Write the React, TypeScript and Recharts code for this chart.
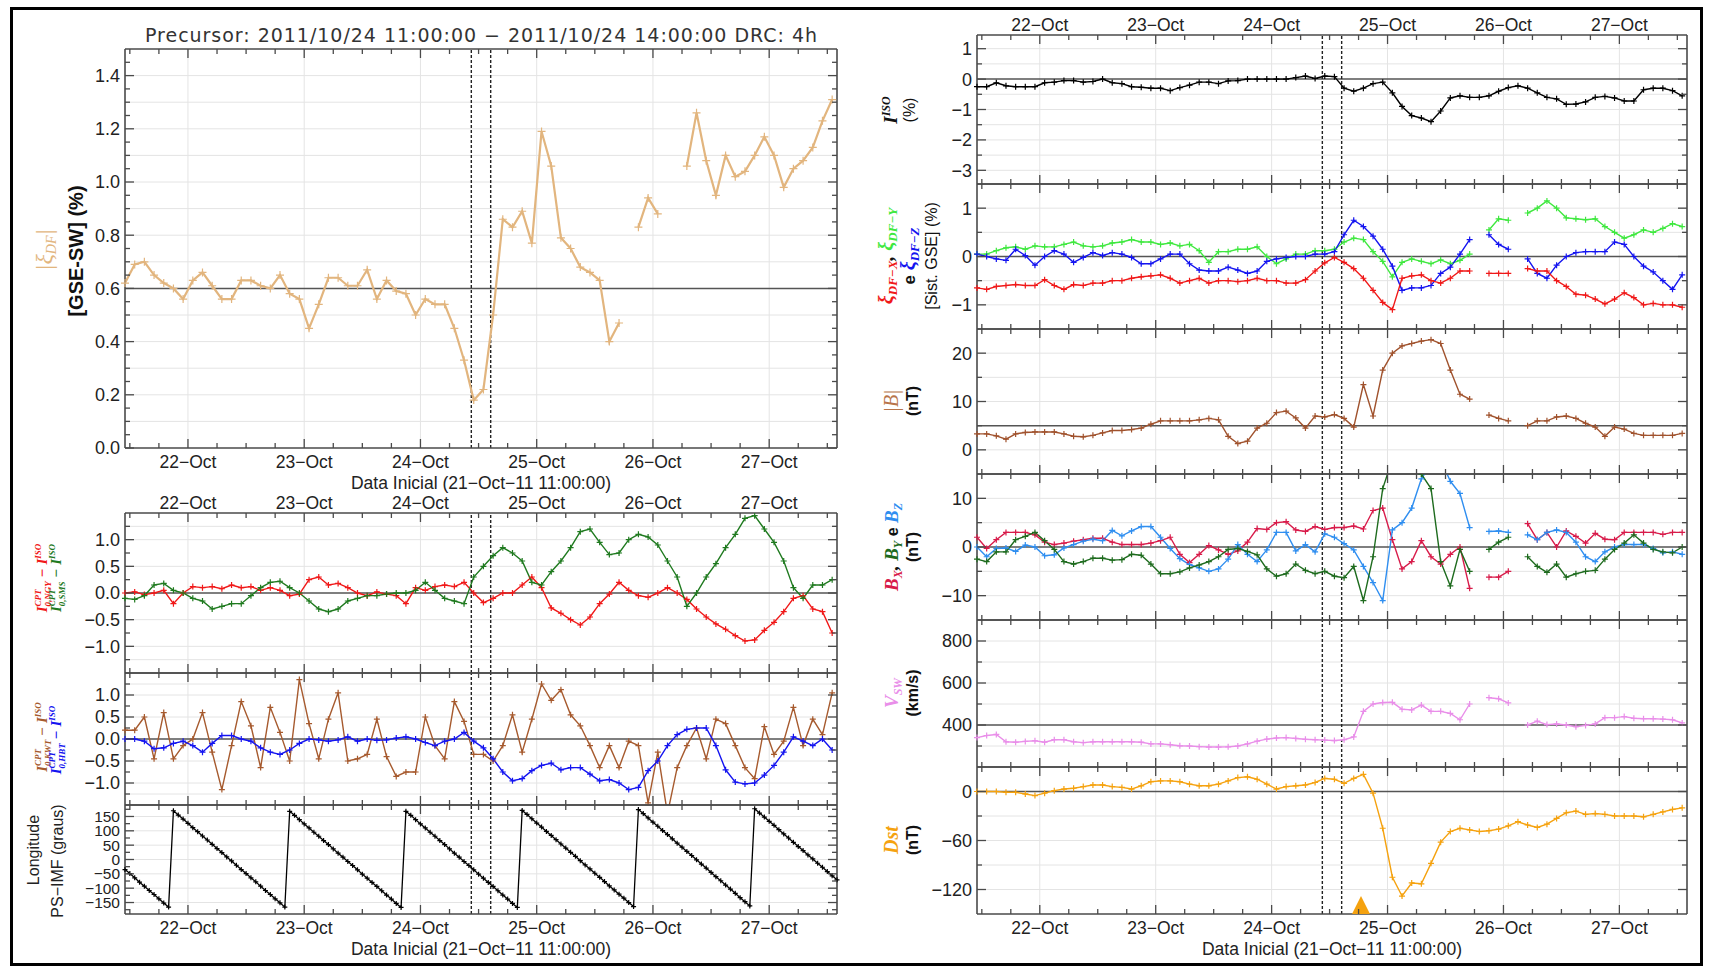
import React from 'react'
import { LineChart, Line, XAxis, YAxis, ReferenceLine, ReferenceDot } from 'recharts'

// hours after 21-Oct-11 11:00:00, one value every 2 h
const hours = Array.from({ length: 74 }, (_, i) => i * 2)
// PS-IMF longitude is read every hour
const lonHours = Array.from({ length: 148 }, (_, i) => i)

const dayTicks = [13, 37, 61, 85, 109, 133]
const dayLabels = ['22−Oct', '23−Oct', '24−Oct', '25−Oct', '26−Oct', '27−Oct']
const sixHourTicks = [1, 7, 13, 19, 25, 31, 37, 43, 49, 55, 61, 67, 73, 79, 85, 91, 97, 103, 109, 115, 121, 127, 133, 139, 145]
const precursor = [71.5, 75.5]
const stormMark = [79.5]

// |xi_DF| [GSE-SW] (%)
const xiDF = [
  0.62, 0.69, 0.70, 0.65, 0.62, 0.60, 0.56, 0.63, 0.66, 0.61,
  0.56, 0.56, 0.63, 0.63, 0.61, 0.60, 0.65, 0.58, 0.56, 0.45,
  0.54, 0.64, 0.64, 0.61, 0.61, 0.67, 0.56, 0.63, 0.59, 0.58,
  0.50, 0.56, 0.54, 0.54, 0.45, 0.33, 0.18, 0.22, 0.50, 0.86,
  0.83, 0.89, 0.77, 1.19, 1.06, 0.79, 0.75, 0.68, 0.66, 0.63,
  0.40, 0.47, null, 0.83, 0.94, 0.88, null, null, 1.06, 1.26,
  1.08, 0.95, 1.10, 1.02, 1.04, 1.10, 1.17, 1.10, 0.98, 1.05,
  1.08, 1.13, 1.23, 1.31,
]

// I_CPT - I_ISO per station
const ngy = [
  0.0, 0.02, -0.03, 0.0, 0.05, -0.2, 0.0, 0.12, 0.1, 0.12,
  0.08, 0.15, 0.1, 0.12, 0.05, 0.1, 0.05, -0.05, -0.02, 0.25,
  0.3, 0.15, 0.18, 0.1, 0.0, -0.05, 0.02, -0.02, -0.05, -0.2,
  0.1, 0.05, 0.12, 0.15, 0.12, 0.2, 0.0, -0.18, -0.1, 0.0,
  0.0, 0.15, 0.3, 0.1, -0.28, -0.38, -0.5, -0.6, -0.45, -0.2,
  -0.02, 0.2, 0.05, -0.05, -0.08, 0.0, 0.1, 0.0, -0.12, -0.3,
  -0.45, -0.58, -0.68, -0.8, -0.9, -0.88, -0.7, -0.55, -0.35, -0.1,
  -0.05, -0.3, -0.35, -0.75,
]
const sms = [
  -0.1, -0.12, -0.05, 0.15, 0.18, 0.05, 0.0, -0.1, -0.15, -0.3,
  -0.25, -0.2, -0.2, -0.05, 0.1, 0.2, 0.22, 0.1, 0.0, -0.15,
  -0.3, -0.35, -0.3, -0.15, -0.1, -0.05, -0.05, -0.02, 0.0, 0.0,
  0.05, 0.2, 0.05, -0.1, -0.15, -0.2, 0.3, 0.5, 0.7, 0.85,
  0.75, 0.6, 0.2, 0.15, 0.4, 0.6, 0.85, 1.15, 1.2, 0.95,
  0.72, 0.75, 1.0, 1.1, 1.05, 0.9, 0.6, 0.3, -0.25, 0.0,
  0.3, 0.55, 0.85, 1.1, 1.4, 1.45, 1.2, 0.95, 0.6, 0.1,
  -0.1, 0.15, 0.15, 0.25,
]
const kwt = [
  0.2, 0.2, 0.5, -0.45, 0.6, -0.45, -0.15, 0.0, 0.6, -0.3,
  -1.15, -0.15, 0.85, 0.3, -0.65, 0.72, 0.15, -0.5, 1.35, 0.35,
  -0.45, 0.45, 1.05, -0.5, -0.45, -0.35, 0.45, -0.4, -0.85, -0.75,
  -0.75, 0.5, -0.15, -0.45, 0.85, 0.4, -0.35, -0.35, -0.5, -0.15,
  0.55, -0.3, 0.45, 1.25, 0.88, 1.12, 0.55, 0.3, -0.15, -0.65,
  -0.15, -0.65, -0.05, -0.15, -1.45, -0.3, -1.7, -0.65, -0.15, 0.25,
  -0.45, 0.45, 0.35, -0.15, -0.65, -0.9, 0.28, -0.35, -0.05, 0.72,
  -0.15, 0.45, 0.1, 1.05,
]
const hbt = [
  0.0, 0.0, -0.05, -0.22, -0.2, -0.1, -0.05, -0.15, -0.3, -0.1,
  0.08, 0.08, 0.0, -0.05, -0.2, -0.3, -0.35, -0.25, -0.1, 0.0,
  -0.02, -0.05, -0.02, 0.05, -0.05, 0.0, -0.03, -0.02, 0.02, 0.05,
  0.0, -0.08, -0.15, -0.05, 0.0, 0.15, -0.05, -0.2, -0.45, -0.75,
  -0.95, -0.9, -0.72, -0.6, -0.55, -0.7, -0.65, -0.65, -0.8, -0.95,
  -0.92, -1.0, -1.15, -1.1, -0.72, -0.5, -0.15, 0.1, 0.22, 0.25,
  0.25, -0.15, -0.7, -0.98, -1.02, -1.0, -0.82, -0.6, -0.3, 0.05,
  -0.05, -0.15, 0.0, -0.25,
]

// Longitude PS-IMF (graus), hourly
const lon = [
  -35, -49, -64, -79, -93, -108, -122, -137, -152, -166,
  170, 155, 141, 126, 111, 97, 82, 68, 53, 38,
  24, 9, -5, -20, -35, -49, -64, -78, -93, -108,
  -122, -137, -151, -166, 168, 154, 139, 124, 110, 95,
  81, 66, 52, 37, 22, 8, -7, -21, -36, -51,
  -65, -80, -94, -109, -124, -138, -153, -167, 168, 154,
  139, 124, 110, 95, 81, 66, 52, 37, 22, 8,
  -7, -21, -36, -51, -65, -80, -94, -109, -124, -138,
  -153, -167, 171, 157, 142, 127, 113, 98, 84, 69,
  54, 40, 25, 11, -4, -19, -33, -48, -62, -77,
  -92, -106, -121, -135, -150, -164, 174, 160, 145, 130,
  116, 101, 87, 72, 57, 43, 28, 14, -1, -16,
  -30, -45, -60, -74, -89, -103, -118, -133, -147, -162,
  177, 162, 148, 133, 119, 104, 89, 75, 60, 45,
  31, 16, 2, -13, -27, -42, -57, -71,
]

// I_ISO (%)
const iso = [
  -0.25, -0.25, -0.12, -0.22, -0.25, -0.25, -0.25, -0.12, -0.1, -0.05,
  -0.05, -0.1, -0.08, 0.0, -0.12, -0.15, -0.25, -0.27, -0.3, -0.3,
  -0.38, -0.28, -0.2, -0.1, -0.1, -0.15, -0.06, -0.05, 0.0, 0.0,
  0.0, 0.0, 0.0, 0.05, 0.1, 0.02, 0.1, 0.08, -0.3, -0.4,
  -0.3, -0.15, -0.1, -0.45, -0.9, -1.2, -1.28, -1.4, -1.05, -0.62,
  -0.55, -0.6, -0.6, -0.55, -0.4, -0.28, -0.22, -0.3, -0.45, -0.6,
  -0.65, -0.83, -0.82, -0.75, -0.6, -0.57, -0.62, -0.72, -0.72, -0.35,
  -0.3, -0.3, -0.38, -0.55,
]

// xi_DF components, GSE (%)
const dfx = [
  -0.65, -0.68, -0.62, -0.6, -0.58, -0.6, -0.6, -0.48, -0.6, -0.68,
  -0.58, -0.6, -0.55, -0.55, -0.5, -0.5, -0.45, -0.42, -0.4, -0.38,
  -0.45, -0.55, -0.5, -0.45, -0.55, -0.5, -0.5, -0.52, -0.5, -0.45,
  -0.5, -0.5, -0.55, -0.55, -0.48, -0.3, -0.13, -0.02, -0.12, -0.25,
  -0.45, -0.7, -0.95, -1.1, -0.45, -0.4, -0.38, -0.5, -0.55, -0.45,
  -0.3, -0.3, null, -0.35, -0.35, -0.35, null, -0.25, -0.3, -0.3,
  -0.5, -0.62, -0.78, -0.8, -0.88, -0.98, -0.88, -0.75, -0.85, -1.0,
  -0.97, -1.0, -1.0, -1.05,
]
const dfy = [
  0.05, 0.05, 0.12, 0.18, 0.2, 0.15, 0.22, 0.2, 0.2, 0.25,
  0.3, 0.22, 0.2, 0.22, 0.28, 0.3, 0.35, 0.3, 0.3, 0.25,
  0.28, 0.22, 0.25, 0.12, -0.12, 0.1, 0.1, 0.15, 0.15, 0.2,
  0.0, -0.15, -0.05, 0.05, 0.05, 0.12, 0.12, 0.15, 0.3, 0.38,
  0.35, 0.1, -0.1, -0.42, -0.12, -0.05, -0.1, -0.15, -0.07, -0.15,
  -0.08, 0.05, null, 0.55, 0.78, 0.75, null, 0.9, 1.0, 1.15,
  1.0, 0.8, 0.78, 0.76, 0.78, 0.62, 0.5, 0.38, 0.45, 0.55,
  0.5, 0.58, 0.68, 0.62,
]
const dfz = [
  0.05, 0.0, -0.05, -0.08, 0.15, 0.02, -0.18, 0.0, 0.12, 0.05,
  -0.12, -0.02, 0.08, 0.02, 0.08, 0.05, -0.02, -0.15, -0.15, -0.05,
  0.05, 0.05, -0.15, -0.28, -0.3, -0.3, -0.22, -0.28, -0.35, -0.3,
  -0.1, -0.05, -0.02, 0.0, 0.0, 0.05, 0.05, 0.1, 0.45, 0.75,
  0.62, 0.42, 0.15, -0.2, -0.7, -0.65, -0.65, -0.6, -0.35, -0.22,
  0.05, 0.35, null, 0.45, 0.25, 0.15, null, -0.05, -0.35, -0.45,
  -0.18, 0.0, 0.08, 0.1, 0.1, 0.1, 0.3, 0.25, 0.0, -0.2,
  -0.32, -0.5, -0.68, -0.38,
]

// |B| (nT)
const bmag = [
  3.3, 3.3, 2.9, 2.2, 3.3, 3.6, 3.7, 3.7, 3.7, 3.3,
  2.8, 2.7, 3.0, 3.5, 4.0, 4.0, 4.2, 4.5, 5.3, 6.0,
  6.0, 6.0, 6.0, 6.2, 6.5, 6.2, 2.8, 1.3, 1.8, 4.5,
  5.5, 7.7, 8.0, 6.6, 4.5, 7.0, 6.8, 7.3, 6.5, 4.7,
  13.5, 7.0, 16.5, 20.0, 21.5, 22.0, 22.5, 22.8, 22.0, 16.5,
  11.5, 10.5, null, 7.2, 6.5, 6.0, null, 5.0, 6.0, 6.0,
  6.8, 7.0, 6.5, 5.5, 4.7, 2.8, 4.7, 4.3, 3.4, 3.0,
  3.0, 3.0, 3.0, 3.4,
]

// Bx, By, Bz (nT)
const bx = [
  2.0, -0.3, 1.5, 3.0, 3.0, 3.0, 2.5, 1.0, 0.5, 0.8,
  1.2, 1.5, 1.8, 1.8, 1.0, 0.5, 0.5, 0.5, 0.8, 1.3,
  2.0, -1.5, -3.2, -1.5, 0.3, -0.6, -1.5, -0.8, 1.0, 3.8,
  3.6, 5.0, 5.2, 3.5, 3.2, 4.2, 3.6, 4.0, 4.0, 4.3,
  3.7, 7.5, 8.0, 1.5, -4.5, -3.0, 1.3, -2.0, -3.5, -1.5,
  0.0, -8.5, null, -6.2, -6.2, -5.0, null, 4.8, 1.5, 3.0,
  0.0, 3.3, 2.2, 0.8, 2.8, 1.6, 1.5, 3.0, 3.0, 3.0,
  3.0, 2.6, 3.0, 3.0,
]
const by = [
  -2.5, -3.0, -1.0, -1.0, 1.5, 2.2, 3.0, 1.3, -0.5, -3.0,
  -3.5, -3.0, -2.3, -2.3, -2.7, -2.6, -1.5, -1.7, -3.5, -5.5,
  -5.5, -5.1, -4.3, -3.7, -3.0, -2.0, -0.5, -0.3, -0.9, -1.6,
  -4.5, -6.0, -5.5, -3.5, -4.8, -5.5, -5.0, -6.0, -6.3, -4.0,
  -11.0, -2.0, 12.0, 18.0, 20.0, 18.0, 15.0, 12.0, -3.0, -8.0,
  -0.5, -5.0, null, -0.5, 1.0, 2.0, null, -2.0, -4.0, -5.2,
  -3.5, -6.2, -5.5, -5.0, -4.8, -2.5, -0.5, 0.8, 2.5, 0.8,
  -0.5, -1.0, -1.2, 0.0,
]
const bz = [
  0.0, -2.0, -0.3, -0.2, -0.9, 0.4, 0.0, -1.8, -1.6, -0.2,
  0.5, 1.2, 1.6, 1.3, 3.4, 2.3, 3.3, 4.2, 4.2, 2.0,
  -0.3, -2.4, -3.6, -4.3, -5.0, -4.5, -2.5, 0.5, -1.5, -3.0,
  -0.6, 3.0, 3.0, -0.8, 0.5, -1.0, 2.7, 2.0, 0.7, -0.6,
  -4.0, -7.3, -11.0, 3.5, 5.0, 8.0, 14.0, 17.0, 18.0, 13.5,
  11.0, 4.0, null, 3.2, 3.3, 3.0, null, 2.5, 1.5, 3.0,
  3.5, 3.0, 1.0, -2.0, -3.0, -1.0, 0.0, 0.5, 0.5, 0.5,
  -0.3, -1.2, -1.0, -1.5,
]

// V_SW (km/s)
const vsw = [
  340, 350, 355, 320, 318, 322, 325, 318, 330, 330,
  320, 316, 320, 320, 320, 320, 320, 318, 310, 310,
  306, 301, 300, 297, 295, 295, 296, 300, 310, 323,
  333, 338, 340, 336, 332, 330, 328, 326, 330, 343,
  465, 500, 507, 508, 475, 472, 495, 465, 465, 455,
  425, 500, null, 530, 525, 505, null, 400, 418, 402,
  405, 400, 392, 398, 405, 435, 435, 440, 432, 430,
  430, 428, 425, 410,
]

// Dst (nT)
const dst = [
  0, 0, 0, -1, -1, -3, -5, -2, 1, 3,
  4, 6, 8, 8, 6, 5, 3, 7, 12, 13,
  13, 12, 9, 7, 7, 9, 13, 17, 18, 15,
  9, 3, 6, 7, 8, 11, 16, 15, 10, 16,
  21, -2, -45, -105, -128, -112, -113, -88, -62, -49,
  -45, -47, -49, -48, -46, -42, -37, -41, -44, -40,
  -33, -26, -24, -28, -27, -28, -30, -30, -30, -31,
  -28, -25, -22, -20,
]

const table = (cols: Record<string, (number | null)[]>) =>
  hours.map((t, i) => {
    const row: Record<string, number | null> = { t }
    for (const k in cols) row[k] = cols[k][i]
    return row
  })

const xiData = table({ xiDF })
const cptA = table({ ngy, sms })
const cptB = table({ kwt, hbt })
const lonData = lonHours.map((t, i) => ({ t, lon: lon[i] }))
const isoData = table({ iso })
const dfData = table({ dfx, dfy, dfz })
const bData = table({ bmag })
const bxyzData = table({ bx, by, bz })
const vswData = table({ vsw })
const dstData = table({ dst })

const AXIS = '#4a4a4a'
const GRID = '#e4e4e4'
const INK = '#222'
const SANS = '"Liberation Sans", Arial, sans-serif'
const SERIF = '"Liberation Serif", "Times New Roman", serif'

const TAN = '#e2b57e'
const RED = '#f01818'
const DKGREEN = '#1f7a1f'
const BROWN = '#a65a2e'
const BLUE = '#1414f0'
const LIME = '#3fe83f'
const CRIMSON = '#d81b4a'
const BYGREEN = '#1e6b1e'
const SKY = '#2f8ef0'
const VIOLET = '#e98ee9'
const ORANGE = '#f5a20f'

const minus = (s: string) => s.replace('-', '−')
const fixed = (d: number) => (v: number) => minus(v.toFixed(d))

const plus = (color: string, r: number) => (props: any) => {
  const { cx, cy, index } = props
  if (cx == null || cy == null || !isFinite(cx) || !isFinite(cy)) return <g key={index} />
  return (
    <path
      key={index}
      d={`M${cx - r},${cy}H${cx + r}M${cx},${cy - r}V${cy + r}`}
      stroke={color}
      strokeWidth={1.2}
      fill="none"
    />
  )
}

// axis line sits at the tick anchor because tickSize and tickMargin are 0
const xTick = (side: 'top' | 'bottom', labels: boolean) => (props: any) => {
  const { x, y, payload } = props
  const i = dayTicks.indexOf(payload.value)
  const len = i >= 0 ? 9 : 5
  const d = side === 'bottom' ? -1 : 1
  return (
    <g>
      <line x1={x} x2={x} y1={y} y2={y + d * len} stroke={AXIS} strokeWidth={1.3} />
      {labels && i >= 0 && (
        <text x={x} y={side === 'bottom' ? y + 20 : y - 4} textAnchor="middle" fontSize={17.5} fontFamily={SANS} fill={INK}>
          {dayLabels[i]}
        </text>
      )}
    </g>
  )
}

const yTick = (side: 'left' | 'right', major: number[], fmt: (v: number) => string, size: number) => (props: any) => {
  const { x, y, payload } = props
  const v = payload.value
  const isMajor = major.includes(v)
  const len = isMajor ? 9 : 5
  const d = side === 'left' ? 1 : -1
  return (
    <g>
      <line x1={x} x2={x + d * len} y1={y} y2={y} stroke={AXIS} strokeWidth={1.3} />
      {side === 'left' && isMajor && (
        <text x={x - 5} y={y + size * 0.36} textAnchor="end" fontSize={size} fontFamily={SANS} fill={INK}>
          {fmt(v)}
        </text>
      )}
    </g>
  )
}

type Series = { key: string; color: string; width?: number; size?: number }

interface PanelProps {
  left: number
  top: number
  width: number
  height: number
  data: Record<string, number | null>[]
  series: Series[]
  domain: [number, number]
  major: number[]
  minor: number[]
  grid: number[]
  fmt: (v: number) => string
  fontSize?: number
  refY?: number
  topLabels?: boolean
  bottomLabels?: boolean
  children?: React.ReactNode
}

const ML = 70
const MR = 12
const MT = 30
const MB = 40
const AX = 1 // axis band size

function Panel(p: PanelProps) {
  const fs = p.fontSize ?? 18
  const axisLine = { stroke: AXIS, strokeWidth: 1.6 }
  return (
    <div style={{ position: 'absolute', left: p.left - ML, top: p.top - MT }}>
      <LineChart
        width={p.width + ML + MR}
        height={p.height + MT + MB}
        data={p.data}
        margin={{ top: MT - AX, right: MR - AX, bottom: MB - AX, left: ML - AX }}
      >
        <XAxis
          dataKey="t"
          type="number"
          domain={[0, 147]}
          ticks={sixHourTicks}
          interval={0}
          height={AX}
          tickSize={0}
          tickMargin={0}
          tickLine={false}
          axisLine={axisLine}
          tick={xTick('bottom', !!p.bottomLabels)}
        />
        <XAxis
          xAxisId="top"
          orientation="top"
          dataKey="t"
          type="number"
          domain={[0, 147]}
          ticks={sixHourTicks}
          interval={0}
          height={AX}
          tickSize={0}
          tickMargin={0}
          tickLine={false}
          axisLine={axisLine}
          tick={xTick('top', !!p.topLabels)}
        />
        <YAxis
          type="number"
          domain={p.domain}
          allowDataOverflow
          ticks={[...p.major, ...p.minor]}
          interval={0}
          width={AX}
          tickSize={0}
          tickMargin={0}
          tickLine={false}
          axisLine={axisLine}
          tick={yTick('left', p.major, p.fmt, fs)}
        />
        <YAxis
          yAxisId="r"
          orientation="right"
          type="number"
          domain={p.domain}
          allowDataOverflow
          ticks={[...p.major, ...p.minor]}
          interval={0}
          width={AX}
          tickSize={0}
          tickMargin={0}
          tickLine={false}
          axisLine={axisLine}
          tick={yTick('right', p.major, p.fmt, fs)}
        />
        {p.grid.map((v) => (
          <ReferenceLine key={'g' + v} y={v} stroke={GRID} strokeWidth={1} />
        ))}
        {dayTicks.map((v) => (
          <ReferenceLine key={'d' + v} x={v} stroke={GRID} strokeWidth={1} />
        ))}
        {p.refY !== undefined && <ReferenceLine y={p.refY} stroke="#555" strokeWidth={1.5} />}
        {precursor.map((v) => (
          <ReferenceLine key={'p' + v} x={v} stroke="#222" strokeDasharray="3 2" strokeWidth={1.4} />
        ))}
        {p.series.map((s) => (
          <Line
            key={s.key}
            dataKey={s.key}
            type="linear"
            stroke={s.color}
            strokeWidth={s.width ?? 1.4}
            dot={plus(s.color, s.size ?? 3)}
            activeDot={false}
            isAnimationActive={false}
          />
        ))}
        {p.children}
      </LineChart>
    </div>
  )
}

function CptLabel({ x, y, station, color }: { x: number; y: number; station: string; color: string }) {
  return (
    <text
      transform={`translate(${x},${y}) rotate(-90)`}
      textAnchor="middle"
      fill={color}
      fontFamily={SERIF}
      fontWeight="bold"
      fontStyle="italic"
      fontSize={15}
    >
      I
      <tspan fontSize={9} dy={-6}>CPT</tspan>
      <tspan fontSize={9} dx={-17} dy={10}>{`0,${station}`}</tspan>
      <tspan dy={-4}> − I</tspan>
      <tspan fontSize={9} dy={-6}>ISO</tspan>
    </text>
  )
}

const LX = 125
const LW = 712
const RX = 977
const RW = 710

export default function App() {
  return (
    <div style={{ position: 'relative', width: 1709, height: 970, background: '#fff', overflow: 'hidden' }}>
      <style>{'body{margin:0}'}</style>

      <Panel
        left={LX} top={49} width={LW} height={399}
        data={xiData}
        series={[{ key: 'xiDF', color: TAN, width: 2.2, size: 4 }]}
        domain={[0, 1.5]}
        major={[0, 0.2, 0.4, 0.6, 0.8, 1.0, 1.2, 1.4]}
        minor={[0.05, 0.1, 0.15, 0.25, 0.3, 0.35, 0.45, 0.5, 0.55, 0.65, 0.7, 0.75, 0.85, 0.9, 0.95, 1.05, 1.1, 1.15, 1.25, 1.3, 1.35, 1.45]}
        grid={[0.1, 0.2, 0.3, 0.4, 0.5, 0.7, 0.8, 0.9, 1.0, 1.1, 1.2, 1.3, 1.4]}
        fmt={fixed(1)}
        refY={0.6}
        bottomLabels
      />
      <Panel
        left={LX} top={513} width={LW} height={160}
        data={cptA}
        series={[{ key: 'ngy', color: RED }, { key: 'sms', color: DKGREEN }]}
        domain={[-1.5, 1.5]}
        major={[-1, -0.5, 0, 0.5, 1]}
        minor={[-1.25, -0.75, -0.25, 0.25, 0.75, 1.25]}
        grid={[-1.25, -1, -0.5, 0.5, 1, 1.25]}
        fmt={fixed(1)}
        refY={0}
        topLabels
      />
      <Panel
        left={LX} top={673} width={LW} height={132}
        data={cptB}
        series={[{ key: 'kwt', color: BROWN }, { key: 'hbt', color: BLUE }]}
        domain={[-1.5, 1.5]}
        major={[-1, -0.5, 0, 0.5, 1]}
        minor={[-1.25, -0.75, -0.25, 0.25, 0.75, 1.25]}
        grid={[-1.25, -1, -0.5, 0.5, 1, 1.25]}
        fmt={fixed(1)}
        refY={0}
      />
      <Panel
        left={LX} top={805} width={LW} height={109}
        data={lonData}
        series={[{ key: 'lon', color: '#000', width: 1.3, size: 2.5 }]}
        domain={[-190, 190]}
        major={[-150, -100, -50, 0, 50, 100, 150]}
        minor={[-175, -125, -75, -25, 25, 75, 125, 175]}
        grid={[-150, -100, -50, 0, 50, 100, 150]}
        fmt={fixed(0)}
        fontSize={15.5}
        bottomLabels
      />

      <Panel
        left={RX} top={35} width={RW} height={149}
        data={isoData}
        series={[{ key: 'iso', color: '#000' }]}
        domain={[-3.45, 1.45]}
        major={[-3, -2, -1, 0, 1]}
        minor={[-2.5, -1.5, -0.5, 0.5]}
        grid={[-3, -2.5, -2, -1.5, -1, -0.5, 0.5, 1]}
        fmt={fixed(0)}
        refY={0}
        topLabels
      />
      <Panel
        left={RX} top={184} width={RW} height={145}
        data={dfData}
        series={[{ key: 'dfy', color: LIME }, { key: 'dfz', color: BLUE }, { key: 'dfx', color: RED }]}
        domain={[-1.5, 1.5]}
        major={[-1, 0, 1]}
        minor={[-0.5, 0.5]}
        grid={[-1, -0.5, 0.5, 1]}
        fmt={fixed(0)}
        refY={0}
      />
      <Panel
        left={RX} top={329} width={RW} height={145}
        data={bData}
        series={[{ key: 'bmag', color: '#a0522d' }]}
        domain={[-5, 25]}
        major={[0, 10, 20]}
        minor={[5, 15]}
        grid={[0, 10, 15, 20]}
        fmt={fixed(0)}
        refY={5}
      />
      <Panel
        left={RX} top={474} width={RW} height={146}
        data={bxyzData}
        series={[{ key: 'bx', color: CRIMSON }, { key: 'bz', color: SKY }, { key: 'by', color: BYGREEN }]}
        domain={[-15, 15]}
        major={[-10, 0, 10]}
        minor={[-5, 5]}
        grid={[-10, -5, 5, 10]}
        fmt={fixed(0)}
        refY={0}
      />
      <Panel
        left={RX} top={620} width={RW} height={147}
        data={vswData}
        series={[{ key: 'vsw', color: VIOLET }]}
        domain={[200, 900]}
        major={[400, 600, 800]}
        minor={[300, 500, 700]}
        grid={[300, 500, 600, 700, 800]}
        fmt={fixed(0)}
        refY={400}
      />
      <Panel
        left={RX} top={767} width={RW} height={147}
        data={dstData}
        series={[{ key: 'dst', color: ORANGE }]}
        domain={[-150, 30]}
        major={[-120, -60, 0]}
        minor={[-90, -30]}
        grid={[-120, -90, -60, -30]}
        fmt={fixed(0)}
        refY={0}
        bottomLabels
      >
        {stormMark.map((v) => (
          <ReferenceDot
            key={'s' + v}
            x={v}
            y={-150}
            r={0}
            shape={(s: any) => (
              <polygon points={`${s.cx - 9},${s.cy} ${s.cx + 9},${s.cy} ${s.cx},${s.cy - 18}`} fill={ORANGE} />
            )}
          />
        ))}
      </Panel>

      <svg width={1709} height={970} style={{ position: 'absolute', left: 0, top: 0, pointerEvents: 'none' }}>
        <rect x={11.5} y={8.5} width={1690} height={956} fill="none" stroke="#000" strokeWidth={3} />

        <text x={481} y={42} textAnchor="middle" fontFamily='"DejaVu Sans", sans-serif' fontSize={19} fill="#333" textLength={672} lengthAdjust="spacing">
          Precursor: 2011/10/24 11:00:00 − 2011/10/24 14:00:00 DRC: 4h
        </text>
        <text x={481} y={489} textAnchor="middle" fontFamily={SANS} fontSize={17.5} fill={INK}>
          Data Inicial (21−Oct−11 11:00:00)
        </text>
        <text x={481} y={955} textAnchor="middle" fontFamily={SANS} fontSize={17.5} fill={INK}>
          Data Inicial (21−Oct−11 11:00:00)
        </text>
        <text x={1332} y={955} textAnchor="middle" fontFamily={SANS} fontSize={17.5} fill={INK}>
          Data Inicial (21−Oct−11 11:00:00)
        </text>

        {/* left column axis titles */}
        <text transform="translate(52,250) rotate(-90)" textAnchor="middle" fill={TAN} fontFamily={SERIF} fontStyle="italic" fontSize={24}>
          |ξ<tspan fontSize={14} dy={4}>DF</tspan><tspan dy={-4}>|</tspan>
        </text>
        <text transform="translate(83,251) rotate(-90)" textAnchor="middle" fontFamily={SANS} fontWeight="bold" fontSize={20} fill="#111">
          [GSE-SW] (%)
        </text>
        <CptLabel x={47} y={578} station="NGY" color={RED} />
        <CptLabel x={61} y={578} station="SMS" color={DKGREEN} />
        <CptLabel x={47} y={737} station="KWT" color={BROWN} />
        <CptLabel x={61} y={740} station="HBT" color={BLUE} />
        <text transform="translate(39,850) rotate(-90)" textAnchor="middle" fontFamily={SANS} fontSize={16} fill={INK}>
          Longitude
        </text>
        <text transform="translate(63,861) rotate(-90)" textAnchor="middle" fontFamily={SANS} fontSize={16} fill={INK}>
          PS−IMF (graus)
        </text>

        {/* right column axis titles */}
        <text transform="translate(897,110) rotate(-90)" textAnchor="middle" fontFamily={SERIF} fontWeight="bold" fontStyle="italic" fontSize={19} fill="#111">
          I<tspan fontSize={12} dy={-7}>ISO</tspan>
        </text>
        <text transform="translate(915,110) rotate(-90)" textAnchor="middle" fontFamily={SANS} fontSize={16} fill="#111">
          (%)
        </text>

        <text transform="translate(893,256) rotate(-90)" textAnchor="middle" fontFamily={SERIF} fontWeight="bold" fontStyle="italic" fontSize={20}>
          <tspan fill={RED}>ξ</tspan>
          <tspan fill={RED} fontSize={13} dy={4}>DF−X</tspan>
          <tspan fill="#111" dy={-4}>, </tspan>
          <tspan fill={LIME}>ξ</tspan>
          <tspan fill={LIME} fontSize={13} dy={4}>DF−Y</tspan>
        </text>
        <text transform="translate(915,256) rotate(-90)" textAnchor="middle" fontFamily={SERIF} fontWeight="bold" fontStyle="italic" fontSize={20}>
          <tspan fill="#111" fontFamily={SANS} fontStyle="normal" fontSize={17}>e </tspan>
          <tspan fill={BLUE}>ξ</tspan>
          <tspan fill={BLUE} fontSize={13} dy={4}>DF−Z</tspan>
        </text>
        <text transform="translate(937,256) rotate(-90)" textAnchor="middle" fontFamily={SANS} fontSize={16} fill="#111">
          [Sist. GSE] (%)
        </text>

        <text transform="translate(898,401) rotate(-90)" textAnchor="middle" fontFamily={SERIF} fontStyle="italic" fontSize={20} fill="#b8744a">
          |B|
        </text>
        <text transform="translate(918,401) rotate(-90)" textAnchor="middle" fontFamily={SANS} fontWeight="bold" fontSize={16} fill="#111">
          (nT)
        </text>

        <text transform="translate(898,547) rotate(-90)" textAnchor="middle" fontFamily={SERIF} fontWeight="bold" fontStyle="italic" fontSize={19}>
          <tspan fill={CRIMSON}>B</tspan>
          <tspan fill={CRIMSON} fontSize={12} dy={4}>X</tspan>
          <tspan fill="#111" dy={-4}>, </tspan>
          <tspan fill={BYGREEN}>B</tspan>
          <tspan fill={BYGREEN} fontSize={12} dy={4}>Y</tspan>
          <tspan fill="#111" dy={-4} fontFamily={SANS} fontStyle="normal" fontSize={16}> e </tspan>
          <tspan fill={SKY}>B</tspan>
          <tspan fill={SKY} fontSize={12} dy={4}>Z</tspan>
        </text>
        <text transform="translate(918,547) rotate(-90)" textAnchor="middle" fontFamily={SANS} fontWeight="bold" fontSize={16} fill="#111">
          (nT)
        </text>

        <text transform="translate(898,693) rotate(-90)" textAnchor="middle" fontFamily={SERIF} fontWeight="bold" fontStyle="italic" fontSize={19} fill={VIOLET}>
          V<tspan fontSize={12} dy={4}>SW</tspan>
        </text>
        <text transform="translate(918,693) rotate(-90)" textAnchor="middle" fontFamily={SANS} fontWeight="bold" fontSize={16} fill="#111">
          (km/s)
        </text>

        <text transform="translate(898,840) rotate(-90)" textAnchor="middle" fontFamily={SERIF} fontWeight="bold" fontStyle="italic" fontSize={20} fill={ORANGE}>
          Dst
        </text>
        <text transform="translate(918,840) rotate(-90)" textAnchor="middle" fontFamily={SANS} fontWeight="bold" fontSize={16} fill="#111">
          (nT)
        </text>
      </svg>
    </div>
  )
}
